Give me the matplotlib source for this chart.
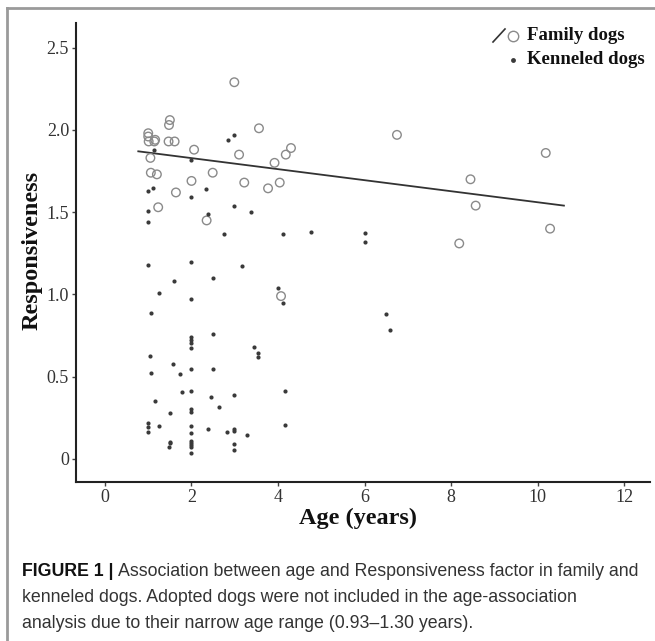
import matplotlib
matplotlib.use("Agg")
import matplotlib.pyplot as plt
from matplotlib.lines import Line2D

# ---------------- data ----------------
family_age = [2.99, 1.0, 1.0, 1.01, 1.16, 1.14, 1.50, 1.48, 1.47, 1.61, 2.06, 3.56,
              1.05, 3.10, 1.06, 1.20, 2.49, 2.0, 3.22, 3.77, 1.64, 1.23, 2.35, 4.30,
              4.18, 3.92, 4.04, 6.75, 8.19, 4.07, 10.19, 8.45, 8.57, 10.29]
family_resp = [2.29, 1.98, 1.96, 1.93, 1.94, 1.93, 2.06, 2.03, 1.93, 1.93, 1.88, 2.01,
               1.83, 1.85, 1.74, 1.73, 1.74, 1.69, 1.68, 1.645, 1.62, 1.53, 1.45, 1.89,
               1.85, 1.80, 1.68, 1.97, 1.31, 0.99, 1.86, 1.70, 1.54, 1.40]

kennel_age = [2.84, 2.99, 1.13, 2.0, 1.0, 1.12, 2.34, 2.0, 1.0, 2.99, 2.38, 3.38, 1.0,
              2.76, 1.0, 2.0, 3.17, 2.5, 1.60, 1.25, 2.0, 1.06, 2.0, 2.0, 2.0, 2.0,
              2.5, 3.44, 3.53, 3.53, 1.04, 1.57, 1.06, 1.74, 2.0, 2.5, 1.77, 2.0, 2.45,
              2.99, 1.16, 2.64, 1.51, 2.0, 2.0, 1.0, 1.0, 1.0, 1.25, 2.0, 2.0, 2.38,
              2.82, 2.99, 2.99, 3.28, 1.51, 1.51, 1.48, 2.0, 2.0, 2.0, 2.0, 2.0, 2.99,
              2.99, 4.11, 4.77, 6.0, 6.0, 4.0, 4.11, 6.5, 6.6, 4.17, 4.17]
kennel_resp = [1.94, 1.97, 1.88, 1.82, 1.63, 1.645, 1.64, 1.59, 1.51, 1.54, 1.49, 1.50,
               1.44, 1.365, 1.18, 1.20, 1.17, 1.10, 1.083, 1.01, 0.97, 0.885, 0.743,
               0.723, 0.707, 0.676, 0.758, 0.682, 0.642, 0.62, 0.628, 0.58, 0.52, 0.515,
               0.545, 0.545, 0.407, 0.413, 0.377, 0.389, 0.352, 0.318, 0.281, 0.302,
               0.286, 0.217, 0.193, 0.162, 0.199, 0.199, 0.156, 0.18, 0.162, 0.18,
               0.168, 0.146, 0.103, 0.095, 0.071, 0.109, 0.095, 0.083, 0.071, 0.038,
               0.091, 0.055, 1.37, 1.38, 1.375, 1.32, 1.04, 0.95, 0.879, 0.784, 0.413,
               0.205]

fit_age = [0.77, 10.61]
fit_resp = [1.87, 1.54]

x_ticks = [0, 2, 4, 6, 8, 10, 12]
y_ticks = [0, 0.5, 1.0, 1.5, 2.0, 2.5]
y_ticklabels = ["0", "0.5", "1.0", "1.5", "2.0", "2.5"]

caption_bold = "FIGURE 1 | "
caption_lines = ["Association between age and Responsiveness factor in family and",
                 "kenneled dogs. Adopted dogs were not included in the age-association",
                 "analysis due to their narrow age range (0.93\u20131.30 years)."]

# ---------------- figure ----------------
W, H = 655, 641
fig = plt.figure(figsize=(W / 100, H / 100), dpi=100)
SERIF = ["Liberation Serif", "DejaVu Serif"]
SANS = ["Liberation Sans", "DejaVu Sans"]


def fx(px):
    return px / W


def fy(py):
    return 1 - py / H


ax = fig.add_axes([fx(76), fy(482), fx(650) - fx(76), fy(23) - fy(482)])

ax.scatter(family_age, family_resp, s=38, facecolors="none", edgecolors="#8a8a8a",
           linewidths=1.0, zorder=3)
ax.scatter(kennel_age, kennel_resp, s=9, color="#3a3a3a", linewidths=0, zorder=3)
ax.plot(fit_age, fit_resp, color="#333333", lw=1.3, zorder=2)

ax.set_xlim(-0.67, 12.6)
ax.set_ylim(-0.14, 2.65)
ax.set_xticks(x_ticks)
ax.set_yticks(y_ticks)
ax.set_yticklabels(y_ticklabels)
for s in ["top", "right"]:
    ax.spines[s].set_visible(False)
for s in ["left", "bottom"]:
    ax.spines[s].set_linewidth(1.5)
    ax.spines[s].set_color("#222222")
ax.tick_params(direction="out", length=3, width=1, color="#444444",
               labelcolor="#333333", labelsize=13, pad=2)
for lab in ax.get_xticklabels() + ax.get_yticklabels():
    lab.set_fontfamily(SERIF)

fig.text(fx(358), fy(518), "Age (years)", fontsize=17.5, fontweight="bold",
         family=SERIF, ha="center", va="center", color="#111111")
fig.text(fx(32), fy(250), "Responsiveness", fontsize=17.5, fontweight="bold",
         family=SERIF, ha="center", va="center", rotation=90, color="#111111")

# legend (manual)
fig.add_artist(Line2D([fx(493), fx(505)], [fy(42), fy(29)], color="#333333", lw=1.2))
fig.add_artist(Line2D([fx(513)], [fy(35.5)], marker="o", markersize=7.5,
                      markerfacecolor="none", markeredgecolor="#8a8a8a", mew=1.0))
fig.add_artist(Line2D([fx(513)], [fy(60)], marker="o", markersize=3.5,
                      color="#3a3a3a", mew=0))
fig.text(fx(527), fy(36), "Family dogs", fontsize=13.5, fontweight="bold",
         family=SERIF, ha="left", va="center", color="#111111")
fig.text(fx(527), fy(60), "Kenneled dogs", fontsize=13.5, fontweight="bold",
         family=SERIF, ha="left", va="center", color="#111111")

# frame lines
fig.add_artist(Line2D([fx(7), fx(7)], [fy(8), fy(641)], color="#9a9a9a", lw=2))
fig.add_artist(Line2D([fx(7), fx(655)], [fy(8), fy(8)], color="#9a9a9a", lw=2))

# caption
renderer = fig.canvas.get_renderer()
CAP = 12.8
t = fig.text(fx(22), fy(571), caption_bold, fontsize=CAP, fontweight="bold",
             family=SANS, ha="left", va="center", color="#111111")
bb = t.get_window_extent(renderer)
x_after = bb.x1 / fig.bbox.width
line_y = [571, 597.5, 624]
fig.text(x_after, fy(line_y[0]), caption_lines[0], fontsize=CAP, family=SANS,
         ha="left", va="center", color="#333333")
for yy, txt in zip(line_y[1:], caption_lines[1:]):
    fig.text(fx(22), fy(yy), txt, fontsize=CAP, family=SANS, ha="left",
             va="center", color="#333333")

fig.savefig("out.png", dpi=100)
